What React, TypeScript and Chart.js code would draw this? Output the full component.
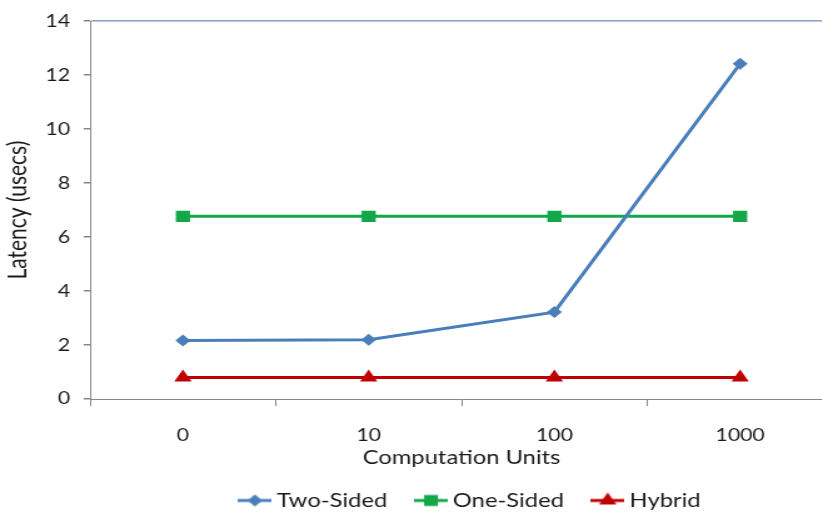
import React, { useEffect, useRef } from "react";
import { Chart, registerables } from "chart.js";

Chart.register(...registerables);

// ---- data ----
const categories = ["0", "10", "100", "1000"];
const twoSided = [2.17, 2.2, 3.22, 12.42];
const oneSided = [6.77, 6.77, 6.77, 6.77];
const hybrid = [0.8, 0.8, 0.8, 0.8];
const seriesNames = ["Two-Sided", "One-Sided", "Hybrid"];
const yMin = 0;
const yMax = 14;
const yStep = 2;
const xTitle = "Computation Units";
const yTitle = "Latency (usecs)";

// ---- styling ----
const BLUE = "#4A7EBB";
const GREEN = "#12A84A";
const RED = "#C00000";
const AXIS = "#868686";
const TEXT = "#1A1A1A";
const FONT = "Lato, 'Open Sans', sans-serif";
const S = 1.25; // horizontal stretch of the drawing
const W = 674;
const H = 520;

function makeIcon(color: string, shape: string): HTMLCanvasElement {
  const c = document.createElement("canvas");
  c.width = 27;
  c.height = 18;
  const ctx = c.getContext("2d")!;
  const cy = 9;
  const cx = 13.5;
  ctx.strokeStyle = color;
  ctx.lineWidth = 3;
  ctx.beginPath();
  ctx.moveTo(0, cy);
  ctx.lineTo(27, cy);
  ctx.stroke();
  ctx.fillStyle = color;
  ctx.beginPath();
  if (shape === "rectRot") {
    const r = 6;
    ctx.moveTo(cx, cy - r);
    ctx.lineTo(cx + r, cy);
    ctx.lineTo(cx, cy + r);
    ctx.lineTo(cx - r, cy);
  } else if (shape === "rect") {
    const h = 5.5;
    ctx.rect(cx - h, cy - h, 2 * h, 2 * h);
  } else {
    const r = 8;
    ctx.moveTo(cx, cy - r);
    ctx.lineTo(cx + r * 0.866, cy + r * 0.5);
    ctx.lineTo(cx - r * 0.866, cy + r * 0.5);
  }
  ctx.closePath();
  ctx.fill();
  return c;
}

const legendShift = {
  id: "legendShift",
  afterLayout(chart: any) {
    if (chart.legend) {
      chart.legend.left += 9;
      chart.legend.right += 9;
    }
  },
};

export default function App() {
  const ref = useRef<HTMLCanvasElement | null>(null);

  useEffect(() => {
    const canvas = ref.current;
    if (!canvas) return;
    const icons = [
      makeIcon(BLUE, "rectRot"),
      makeIcon(GREEN, "rect"),
      makeIcon(RED, "triangle"),
    ];
    const chart = new Chart(canvas, {
      type: "line",
      data: {
        labels: categories,
        datasets: [
          {
            label: seriesNames[0],
            data: twoSided,
            borderColor: BLUE,
            backgroundColor: BLUE,
            borderWidth: 3,
            pointStyle: "rectRot",
            pointRadius: 6,
            pointBorderWidth: 0,
          },
          {
            label: seriesNames[1],
            data: oneSided,
            borderColor: GREEN,
            backgroundColor: GREEN,
            borderWidth: 3,
            pointStyle: "rect",
            pointRadius: 8,
            pointBorderWidth: 0,
          },
          {
            label: seriesNames[2],
            data: hybrid,
            borderColor: RED,
            backgroundColor: RED,
            borderWidth: 3,
            pointStyle: "triangle",
            pointRadius: 8,
            pointBorderWidth: 0,
          },
        ],
      },
      plugins: [legendShift],
      options: {
        responsive: false,
        animation: false,
        devicePixelRatio: 1,
        layout: { padding: { top: 20, left: 0, right: 2.4, bottom: 0 } },
        plugins: {
          tooltip: { enabled: false },
          legend: {
            position: "bottom",
            fullSize: false,
            labels: {
              usePointStyle: true,
              pointStyleWidth: 16,
              padding: 27,
              color: TEXT,
              font: { family: FONT, size: 19 },
              generateLabels: (ch: any) => {
                const items = (Chart as any).defaults.plugins.legend.labels.generateLabels(ch);
                return items.map((it: any, i: number) => ({ ...it, pointStyle: icons[i] }));
              },
            },
          },
        },
        scales: {
          x: {
            type: "category",
            offset: true,
            afterFit: (s: any) => {
              s.height = 65;
            },
            grid: {
              offset: true,
              drawOnChartArea: false,
              drawTicks: true,
              tickLength: 7,
              tickColor: AXIS,
            },
            border: { display: true, color: AXIS, width: 1 },
            ticks: {
              color: TEXT,
              padding: 19,
              font: { family: FONT, size: 17 },
              maxRotation: 0,
            },
            title: {
              display: true,
              text: xTitle,
              color: TEXT,
              font: { family: FONT, size: 19 },
              padding: { top: 0, bottom: -5 },
            },
          },
          y: {
            min: yMin,
            max: yMax,
            afterFit: (s: any) => {
              s.width = 72;
            },
            ticks: {
              stepSize: yStep,
              color: TEXT,
              padding: 11,
              font: { family: FONT, size: 17 },
            },
            grid: {
              drawTicks: true,
              tickLength: 5,
              tickColor: AXIS,
              color: (c: any) => (c.tick && c.tick.value === yMax ? "#8A9CC2" : "rgba(0,0,0,0)"),
              lineWidth: 1.5,
            },
            border: { display: true, color: AXIS, width: 1 },
            title: {
              display: true,
              text: yTitle,
              color: TEXT,
              font: { family: FONT, size: 21 },
              padding: { top: 1.8, bottom: 0 },
            },
          },
        },
      } as any,
    });
    return () => chart.destroy();
  }, []);

  return (
    <div
      style={{
        position: "fixed",
        left: 0,
        top: 0,
        width: 822,
        height: 513,
        overflow: "hidden",
        background: "#fff",
      }}
    >
      <canvas
        ref={ref}
        width={W}
        height={H}
        style={{ display: "block", width: `${W * S}px`, height: `${H}px` }}
      />
    </div>
  );
}
